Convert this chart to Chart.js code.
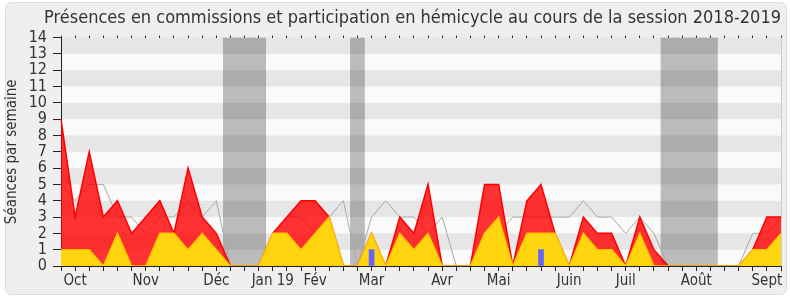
<!DOCTYPE html>
<html>
<head>
<meta charset="utf-8">
<script src="https://cdn.jsdelivr.net/npm/chart.js@4/dist/chart.umd.min.js"></script>
<style>
  body { margin: 0; background: #fff; }
  #wrap { width: 790px; height: 300px; position: relative; }
</style>
</head>
<body>
<div id="wrap"><canvas id="presenceChart"></canvas></div>
<script>
"use strict";
const FONT = "'DejaVu Sans Condensed', 'DejaVu Sans', sans-serif";
const TEXT = "#333";

// one entry per week, from late Sept 2018 to Sept 2019
const MONTH_IDX = [1, 6, 11, 15, 18, 22, 27, 31, 36, 40, 45, 50];
const MONTH_NAMES = ["Oct", "Nov", "Déc", "Jan 19", "Fév", "Mar", "Avr", "Mai", "Juin", "Juil", "Août", "Sept"];

// red : presences in commission (total)
const presences = [9, 3, 7, 3, 4, 2, 3, 4, 2, 6, 3, 2, 0, 0, 0, 2, 3, 4, 4, 3, 0, 0, 2, 0, 3, 2,
  5, 0, 0, 0, 5, 5, 0, 4, 5, 2, 0, 3, 2, 2, 0, 3, 1, 0, 0, 0, 0, 0, 0, 1, 3, 3];
// yellow : hemicycle participation
const hemicycle = [1, 1, 1, 0, 2, 0, 0, 2, 2, 1, 2, 1, 0, 0, 0, 2, 2, 1, 2, 3, 0, 0, 2, 0, 2, 1,
  2, 0, 0, 0, 2, 3, 0, 2, 2, 2, 0, 2, 1, 1, 0, 2, 0, 0, 0, 0, 0, 0, 0, 1, 1, 2];
// grey line : median of all deputies
const mediane = [5, 4, 5, 5, 3, 3, 2, 3, 3, 4, 3, 4, 0, 0, 0, 2, 3, 3, 2, 3, 4, 0, 3, 4, 3, 3,
  2, 3, 0, 0, 2, 2, 3, 3, 3, 3, 3, 4, 3, 3, 2, 3, 2, 0, 0, 0, 0, 0, 0, 2, 2, 3];
// blue : questions
const questions = [];
questions[22] = 1;
questions[34] = 1;
// parliament holidays
const vacancesIdx = [12, 13, 14, 21, 43, 44, 45, 46];

const labels = presences.map(() => "");
MONTH_IDX.forEach((idx, i) => {
  labels[idx] = MONTH_NAMES[i];
});
const vacances = presences.map((v, i) => (vacancesIdx.includes(i) ? 14 : null));
const questionsData = presences.map((v, i) => (questions[i] ? questions[i] : null));

const background = {
  id: "background",
  beforeDraw(chart) {
    const { ctx, chartArea: a } = chart;
    ctx.save();
    ctx.fillStyle = "#efefef";
    ctx.strokeStyle = "#dcdcdc";
    ctx.lineWidth = 1;
    ctx.beginPath();
    ctx.roundRect(5.5, 2.5, 781, 292, 6);
    ctx.fill();
    ctx.stroke();
    ctx.fillStyle = "#fafafa";
    ctx.fillRect(a.left, a.top, a.right - a.left, a.bottom - a.top);
    ctx.restore();
  },
  afterDatasetDraw(chart, args) {
    // grey stripes go over the holiday bands, under the areas
    if (args.index !== 0) return;
    const { ctx, chartArea: a, scales } = chart;
    const y = scales.y;
    ctx.save();
    ctx.fillStyle = "rgba(0,0,0,0.08)";
    for (let v = 1; v < 14; v += 2) {
      const top = y.getPixelForValue(v + 1);
      const bot = y.getPixelForValue(v);
      ctx.fillRect(a.left, top, a.right - a.left, bot - top);
    }
    ctx.strokeStyle = "#cccccc";
    ctx.beginPath();
    ctx.moveTo(a.right + 0.5, a.top);
    ctx.lineTo(a.right + 0.5, a.bottom);
    ctx.stroke();
    ctx.restore();
  },
};

const ctx = document.getElementById("presenceChart").getContext("2d");
const myChart = new Chart(ctx, {
  type: "line",
  data: {
    labels: labels,
    datasets: [
      {
        type: "bar",
        label: "Vacances",
        data: vacances,
        backgroundColor: "#bbbbbb",
        barPercentage: 1,
        categoryPercentage: 1,
        grouped: false,
        order: 10,
      },
      {
        label: "Présences",
        data: presences,
        fill: "origin",
        backgroundColor: "rgba(255,0,0,0.8)",
        borderColor: "#ff0000",
        borderWidth: 1.5,
        pointRadius: 0,
        tension: 0,
        order: 3,
      },
      {
        label: "Médiane",
        data: mediane,
        fill: false,
        borderColor: "#a8a8a8",
        borderWidth: 1,
        pointRadius: 0,
        tension: 0,
        order: 4,
      },
      {
        label: "Hémicycle",
        data: hemicycle,
        fill: "origin",
        backgroundColor: "#ffd50f",
        borderColor: "#ffc400",
        borderWidth: 1.5,
        pointRadius: 0,
        tension: 0,
        order: 2,
      },
      {
        type: "bar",
        label: "Questions",
        data: questionsData,
        backgroundColor: "#6464ff",
        barThickness: 5,
        grouped: false,
        order: 1,
      },
    ],
  },
  options: {
    responsive: true,
    maintainAspectRatio: false,
    animation: false,
    layout: { padding: { left: 3, right: 9, top: 4, bottom: 6 } },
    plugins: {
      legend: { display: false },
      tooltip: { enabled: false },
      title: {
        display: true,
        align: "end",
        text: "Présences en commissions et participation en hémicycle au cours de la session 2018-2019",
        color: TEXT,
        font: { family: FONT, size: 18, weight: "normal" },
        padding: { top: 4, bottom: 4 },
      },
    },
    scales: {
      x: {
        type: "category",
        offset: false,
        grid: { drawOnChartArea: false, offset: false, tickLength: 5, color: "#222" },
        border: { color: "#222" },
        ticks: {
          autoSkip: false,
          maxRotation: 0,
          color: TEXT,
          padding: 1,
          font: { family: FONT, size: 15 },
        },
        afterFit: (s) => {
          s.height = 28;
        },
      },
      x2: {
        type: "category",
        position: "top",
        labels: labels,
        offset: false,
        grid: { drawOnChartArea: false, offset: false, tickLength: 2, color: "#222" },
        border: { display: false },
        ticks: { display: false },
        afterFit: (s) => {
          s.height = 4;
        },
      },
      y: {
        min: 0,
        max: 14,
        ticks: {
          stepSize: 1,
          autoSkip: false,
          color: TEXT,
          padding: 6,
          font: { family: FONT, size: 16 },
        },
        grid: { drawOnChartArea: false, tickLength: 8, color: "#222" },
        border: { color: "#222" },
        title: {
          display: true,
          text: "Séances par semaine",
          color: TEXT,
          padding: 0,
          font: { family: FONT, size: 15 },
        },
        afterFit: (s) => {
          s.width = 58;
        },
      },
    },
  },
  plugins: [background],
});
</script>
</body>
</html>
